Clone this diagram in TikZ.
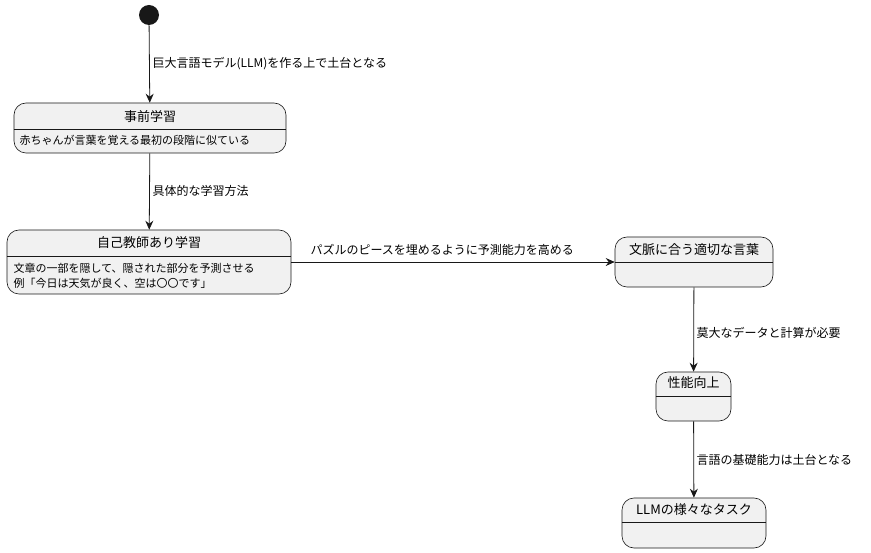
\documentclass[tikz,border=0pt]{standalone}
\usepackage{fontspec}
\setmainfont{Noto Sans CJK JP}
\usetikzlibrary{arrows.meta}
\definecolor{boxfill}{HTML}{F1F1F1}
\definecolor{boxline}{HTML}{181818}
\tikzset{
    state/.style={draw=boxline, fill=boxfill, rounded corners=12pt,
        line width=0.6pt, inner sep=0pt},
    title/.style={font=\fontsize{13}{15}\selectfont},
    body/.style={font=\fontsize{11}{15}\selectfont, anchor=west, align=left},
    lbl/.style={font=\fontsize{12}{14}\selectfont, anchor=west},
    flow/.style={draw=boxline, line width=0.8pt, -{Stealth[length=9pt,width=8pt,inset=3pt]}}
}
\begin{document}
\begin{tikzpicture}[x=1pt, y=-1pt]
  \useasboundingbox (0,0) rectangle (871,553);
  % start point
  \node (start) [circle, fill=boxline, minimum size=20pt, inner sep=0pt] at (149,15) {};

  % states
  \node (pre) [state, minimum width=272pt, minimum height=50pt] at (150,128) {};
  \node (self) [state, minimum width=284pt, minimum height=64pt] at (149,262) {};
  \node (ctx) [state, minimum width=158pt, minimum height=50pt] at (694,262) {};
  \node (perf) [state, minimum width=75pt, minimum height=49pt] at (693.5,396.5) {};
  \node (task) [state, minimum width=144pt, minimum height=50pt] at (694,523) {};

  \foreach \n/\d in {pre/27, self/27, ctx/26, perf/25, task/25}
    \draw[boxline, line width=0.6pt] ([yshift=-\d pt]\n.north west) -- ([yshift=-\d pt]\n.north east);

  \node[title] at (150,117) {事前学習};
  \node[body] at (16,140) {赤ちゃんが言葉を覚える最初の段階に似ている};
  \node[title] at (149,243) {自己教師あり学習};
  \node[body] at (10,276) {文章の一部を隠して、隠された部分を予測させる\\例「今日は天気が良く、空は〇〇です」};
  \node[title] at (694,250) {文脈に合う適切な言葉};
  \node[title] at (693.5,383) {性能向上};
  \node[title] at (694,510) {LLMの様々なタスク};

  % transitions
  \draw[flow] (start) -- (pre);
  \draw[flow] (pre) -- (self);
  \draw[flow] (self.east) -- (ctx.west);
  \draw[flow] (ctx) -- (perf);
  \draw[flow] (perf) -- (task);

  \node[lbl] at (149,64) {巨大言語モデル(LLM)を作る上で土台となる};
  \node[lbl] at (149,191) {具体的な学習方法};
  \node[lbl] at (307,250) {パズルのピースを埋めるように予測能力を高める};
  \node[lbl] at (693,333) {莫大なデータと計算が必要};
  \node[lbl] at (693,460) {言語の基礎能力は土台となる};
\end{tikzpicture}
\end{document}
